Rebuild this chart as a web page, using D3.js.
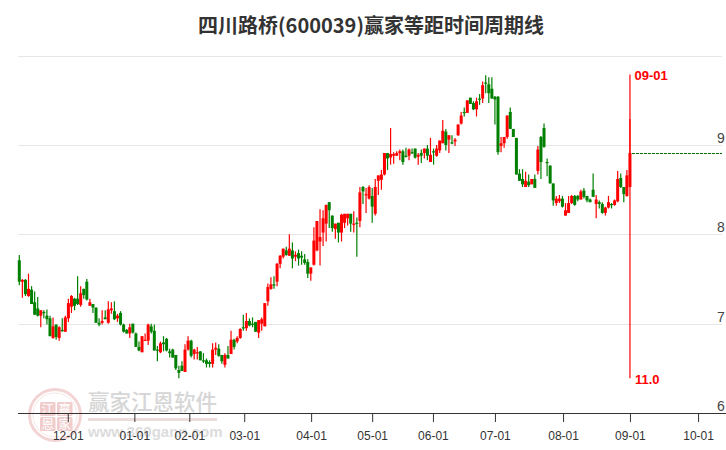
<!DOCTYPE html>
<html>
<head>
<meta charset="utf-8">
<script src="https://cdn.jsdelivr.net/npm/d3@7/dist/d3.min.js"></script>
<style>
html, body { margin: 0; padding: 0; background: #fff; }
#chart { width: 726px; height: 450px; overflow: hidden; }
svg { display: block; }
</style>
</head>
<body>
<div id="chart"></div>
<script>
// candles, one entry per trading day
const open = [7.71,7.47,7.49,7.31,7.38,7.24,7.17,7.09,7.13,7.09,7.06,6.84,6.99,6.84,6.93,6.91,7.06,7.19,7.28,7.28,
  7.21,7.39,7.47,7.20,7.22,7.18,7.01,7.01,7.07,7.01,7.15,7.14,7.06,7.12,6.99,6.93,6.89,7.00,6.89,6.74,
  6.68,6.81,6.81,6.97,6.92,6.71,6.68,6.79,6.83,6.69,6.71,6.65,6.48,6.53,6.46,6.71,6.81,6.66,6.67,6.69,
  6.59,6.59,6.57,6.55,6.71,6.72,6.65,6.54,6.65,6.66,6.82,6.80,6.84,6.96,6.95,7.03,7.00,7.02,6.90,7.00,
  6.97,7.25,7.39,7.44,7.47,7.67,7.75,7.82,7.76,7.82,7.75,7.79,7.76,7.72,7.69,7.56,7.66,7.82,7.92,8.02,
  8.12,8.36,8.21,8.06,8.13,8.02,8.13,8.18,8.23,8.11,8.13,8.15,8.53,8.44,8.40,8.43,8.23,8.60,8.61,8.67,
  8.91,8.86,8.88,8.88,8.91,8.93,8.88,8.88,8.92,8.96,8.87,8.91,8.91,8.96,8.81,8.93,8.88,8.94,9.02,9.15,
  9.06,9.03,9.04,9.11,9.24,9.37,9.36,9.53,9.47,9.40,9.52,9.52,9.70,9.68,9.63,9.54,9.54,8.99,9.02,9.09,
  9.37,9.18,9.08,8.68,8.62,8.53,8.59,8.56,8.62,8.71,9.09,9.19,8.81,8.77,8.57,8.35,8.37,8.40,8.21,8.24,
  8.35,8.43,8.43,8.39,8.49,8.43,8.39,8.50,8.34,8.36,8.34,8.24,8.30,8.34,8.33,8.37,8.63,8.53,8.43,8.53];
const close = [7.47,7.49,7.33,7.39,7.22,7.10,7.09,7.15,7.12,7.05,6.86,6.97,6.85,6.96,6.92,7.07,7.23,7.31,7.20,7.22,
  7.34,7.32,7.27,7.24,7.18,7.01,6.99,7.03,7.05,7.16,7.17,7.05,7.09,6.99,6.91,6.89,6.96,6.90,6.74,6.70,
  6.86,6.82,6.99,6.91,6.70,6.70,6.78,6.77,6.70,6.67,6.62,6.50,6.45,6.47,6.71,6.81,6.64,6.71,6.68,6.59,
  6.58,6.55,6.55,6.71,6.73,6.64,6.58,6.65,6.61,6.82,6.74,6.84,6.94,6.95,7.03,6.98,6.99,6.91,7.04,7.05,
  7.23,7.41,7.44,7.43,7.67,7.76,7.84,7.77,7.84,7.73,7.77,7.73,7.74,7.68,7.56,7.63,7.93,8.15,7.97,8.18,
  8.33,8.27,8.07,8.12,8.02,8.22,8.23,8.23,8.12,8.12,8.12,8.47,8.48,8.45,8.53,8.31,8.53,8.66,8.67,8.91,
  8.85,8.90,8.90,8.91,8.93,8.81,8.87,8.95,8.91,8.86,8.89,8.88,8.96,8.88,8.89,8.92,8.96,9.05,9.16,9.00,
  9.11,9.02,9.06,9.23,9.33,9.36,9.50,9.46,9.40,9.49,9.51,9.67,9.69,9.58,9.52,9.51,8.92,9.02,9.09,9.33,
  9.18,9.09,8.67,8.60,8.56,8.60,8.55,8.62,8.52,8.95,8.81,8.98,8.80,8.57,8.38,8.40,8.40,8.31,8.27,8.35,
  8.43,8.33,8.39,8.48,8.42,8.38,8.36,8.42,8.39,8.34,8.24,8.30,8.36,8.33,8.38,8.62,8.53,8.45,8.66,8.91];
const high = [7.77,7.50,7.50,7.56,7.42,7.36,7.30,7.15,7.15,7.16,7.09,7.07,6.99,6.97,7.06,7.09,7.28,7.32,7.29,7.53,
  7.42,7.39,7.50,7.28,7.22,7.18,7.06,7.15,7.15,7.25,7.24,7.25,7.11,7.14,7.00,6.94,7.00,7.00,6.90,6.80,
  6.86,6.89,7.00,7.00,6.99,6.75,6.80,6.86,6.84,6.72,6.72,6.65,6.53,6.58,6.77,6.86,6.82,6.72,6.74,6.69,
  6.67,6.61,6.59,6.78,6.79,6.77,6.65,6.67,6.75,6.92,6.83,6.86,6.95,7.10,7.12,7.06,7.07,7.02,7.04,7.07,
  7.23,7.45,7.52,7.53,7.68,7.77,7.84,7.86,8.00,7.91,7.81,7.83,7.81,7.78,7.72,7.63,8.08,8.15,8.28,8.27,
  8.33,8.36,8.21,8.12,8.13,8.23,8.23,8.23,8.23,8.26,8.19,8.53,8.54,8.52,8.55,8.52,8.62,8.66,8.72,8.91,
  8.91,9.19,8.92,8.93,8.95,8.95,8.97,8.96,8.96,8.96,8.91,8.95,8.96,9.00,9.08,8.96,9.00,9.05,9.28,9.18,
  9.11,9.11,9.08,9.23,9.37,9.42,9.50,9.53,9.49,9.53,9.57,9.71,9.78,9.76,9.76,9.55,9.55,9.09,9.09,9.33,
  9.42,9.18,9.08,8.73,8.73,8.70,8.67,8.62,8.67,8.99,9.10,9.24,8.85,8.77,8.57,8.43,8.44,8.43,8.35,8.43,
  8.44,8.44,8.44,8.50,8.52,8.43,8.40,8.68,8.44,8.38,8.36,8.31,8.43,8.35,8.39,8.71,8.68,8.53,8.72,9.29];
const low = [7.43,7.29,7.31,7.30,7.22,7.10,7.08,6.96,7.06,6.99,6.86,6.83,6.82,6.81,6.91,6.91,7.02,7.12,7.15,7.21,
  7.19,7.28,7.26,7.20,7.12,7.01,6.97,6.99,7.05,7.00,7.11,7.04,7.02,6.98,6.90,6.89,6.84,6.89,6.74,6.69,
  6.68,6.81,6.76,6.89,6.70,6.58,6.67,6.69,6.69,6.62,6.62,6.48,6.39,6.47,6.46,6.70,6.62,6.60,6.60,6.59,
  6.56,6.51,6.51,6.51,6.65,6.63,6.55,6.51,6.61,6.66,6.71,6.78,6.83,6.92,6.92,6.97,6.96,6.91,6.84,6.92,
  6.97,7.20,7.38,7.39,7.42,7.62,7.73,7.76,7.76,7.62,7.70,7.65,7.66,7.66,7.51,7.48,7.65,7.81,7.65,7.87,
  7.92,8.07,8.03,7.95,7.91,7.92,8.07,8.10,8.03,8.02,7.75,8.08,8.34,8.24,8.39,8.13,8.21,8.44,8.50,8.66,
  8.72,8.78,8.79,8.88,8.83,8.78,8.86,8.83,8.90,8.85,8.78,8.80,8.85,8.83,8.81,8.78,8.87,8.91,9.02,8.94,
  8.91,9.01,8.99,9.10,9.23,9.32,9.36,9.46,9.39,9.32,9.45,9.47,9.58,9.47,9.52,9.23,8.89,8.92,8.97,9.07,
  9.18,9.09,8.67,8.60,8.53,8.53,8.53,8.56,8.52,8.67,8.62,8.97,8.65,8.57,8.32,8.32,8.35,8.30,8.21,8.24,
  8.34,8.32,8.37,8.39,8.40,8.36,8.36,8.42,8.18,8.29,8.23,8.21,8.29,8.29,8.32,8.36,8.52,8.36,8.42,8.53];

// month starts, as positions on the trading day axis
const tickLabels = ['12-01','01-01','02-01','03-01','04-01','05-01','06-01','07-01','08-01','09-01','10-01'];
const tickDays = [15.8,37.5,55.4,73.3,95.1,115,134.8,155,177.2,199,221.2];
const priceTicks = [6,7,8,9,10];
const cycleDay = 199;
const cycleTop = 9.79;
const cycleBottom = 6.39;
const cycleDate = '09-01';
const cycleValue = '11.0';
const title = '四川路桥(600039)赢家等距时间周期线';

const width = 726;
const height = 450;

const x = d3.scaleLinear().domain([0, 229]).range([19.3, 722]);
const y = d3.scaleLinear().domain([6, 10]).range([413, 55.7]);

const svg = d3.select('#chart').append('svg')
    .attr('width', width)
    .attr('height', height);

// Watermark
const mark = svg.append('g').attr('class', 'watermark');
mark.append('circle')
    .attr('cx', 55).attr('cy', 415).attr('r', 25.5)
    .style('fill', 'none').style('stroke', '#f3d4d4').style('stroke-width', 3);
mark.append('circle')
    .attr('cx', 55).attr('cy', 415).attr('r', 22)
    .style('fill', 'none').style('stroke', '#f8e6e6').style('stroke-width', 1);
[['江', 40, 402], ['赢', 57, 402], ['恩', 40, 417], ['家', 57, 417]].forEach(function (c) {
    mark.append('rect')
        .attr('x', c[1]).attr('y', c[2]).attr('width', 15.5).attr('height', 14)
        .attr('rx', 1.5)
        .style('fill', '#f0cccc');
    mark.append('text')
        .attr('x', c[1] + 7.7).attr('y', c[2] + 11.5)
        .style('text-anchor', 'middle')
        .style('font-family', '"Noto Sans CJK SC"')
        .style('font-size', '12.5px')
        .style('fill', '#fff')
        .text(c[0]);
});
mark.append('text')
    .attr('x', 88).attr('y', 410)
    .style('font-family', '"Noto Sans CJK SC"')
    .style('font-weight', '500')
    .style('font-size', '21.5px')
    .style('fill', '#d6d6d6')
    .text('赢家江恩软件');
mark.append('rect')
    .attr('x', 88).attr('y', 418).attr('width', 129).attr('height', 3)
    .style('fill', '#ecdcdc');
mark.append('text')
    .attr('x', 88).attr('y', 437)
    .style('font-family', '"Liberation Sans"')
    .style('font-size', '15px')
    .style('font-weight', 'bold')
    .style('fill', '#dcdcdc')
    .text('www.360gann.com');

// Grid lines
svg.selectAll('.grid')
    .data(priceTicks.filter(d => d > 6))
    .enter()
    .append('line')
    .attr('class', 'grid')
    .attr('x1', 18)
    .attr('x2', 722)
    .attr('y1', d => Math.round(y(d)) + 0.5)
    .attr('y2', d => Math.round(y(d)) + 0.5)
    .style('stroke', '#e6e6e6')
    .style('stroke-width', 1);

// Title
svg.append('text')
    .attr('x', 371)
    .attr('y', 33)
    .style('text-anchor', 'middle')
    .style('font-family', '"Noto Sans CJK SC"')
    .style('font-weight', 'bold')
    .style('font-size', '20px')
    .style('fill', '#333')
    .text(title);

// Price labels sit on the right, just above their grid line
svg.selectAll('.price-label')
    .data(priceTicks.filter(d => d < 10))
    .enter()
    .append('text')
    .attr('class', 'price-label')
    .attr('x', 717)
    .attr('y', d => y(d) - 2)
    .style('font-family', '"Liberation Sans"')
    .style('font-size', '14px')
    .style('fill', '#444')
    .text(d => d);

// Time axis
const xAxis = d3.axisBottom(x)
    .tickValues(tickDays)
    .tickSize(9)
    .tickPadding(9.5)
    .tickFormat((d, i) => tickLabels[i]);

const axisG = svg.append('g')
    .attr('transform', 'translate(0,413)')
    .call(xAxis);
axisG.select('.domain')
    .attr('d', 'M18,0.5H726')
    .style('stroke', '#333')
    .style('stroke-width', 1.2);
axisG.selectAll('.tick line').style('stroke', '#333');
axisG.selectAll('.tick text')
    .style('font-family', '"Liberation Sans"')
    .style('font-size', '12px')
    .style('fill', '#333');

// Candles
const days = d3.range(open.length);
const colour = i => close[i] >= open[i] ? '#ff0000' : '#008000';

svg.selectAll('.wick')
    .data(days)
    .enter()
    .append('line')
    .attr('class', 'wick')
    .attr('x1', d => x(d))
    .attr('x2', d => x(d))
    .attr('y1', d => y(high[d]))
    .attr('y2', d => y(low[d]))
    .style('stroke', d => colour(d))
    .style('stroke-width', 1.2);

svg.selectAll('.body')
    .data(days)
    .enter()
    .append('rect')
    .attr('class', 'body')
    .attr('x', d => x(d) - 1.5)
    .attr('width', 3)
    .attr('y', d => y(Math.max(open[d], close[d])))
    .attr('height', d => Math.max(1.2, Math.abs(y(open[d]) - y(close[d]))))
    .style('fill', d => colour(d));

// Last close carried to the right edge
const lastClose = close[close.length - 1];
svg.append('line')
    .attr('x1', x(cycleDay) + 2)
    .attr('x2', 722)
    .attr('y1', Math.round(y(lastClose)) + 0.5)
    .attr('y2', Math.round(y(lastClose)) + 0.5)
    .style('stroke', '#007000')
    .style('stroke-width', 1)
    .style('stroke-dasharray', '3,1');

// Cycle line
svg.append('line')
    .attr('x1', x(cycleDay))
    .attr('x2', x(cycleDay))
    .attr('y1', y(cycleTop))
    .attr('y2', y(cycleBottom))
    .style('stroke', '#ff0000')
    .style('stroke-width', 1.2);

svg.append('text')
    .attr('x', x(cycleDay) + 4.5)
    .attr('y', y(cycleTop) + 5.5)
    .style('font-family', '"Liberation Sans"')
    .style('font-weight', 'bold')
    .style('font-size', '13px')
    .style('fill', '#ff0000')
    .text(cycleDate);

svg.append('text')
    .attr('x', x(cycleDay) + 5)
    .attr('y', y(cycleBottom) + 6)
    .style('font-family', '"Liberation Sans"')
    .style('font-weight', 'bold')
    .style('font-size', '13px')
    .style('fill', '#ff0000')
    .text(cycleValue);
</script>
</body>
</html>
